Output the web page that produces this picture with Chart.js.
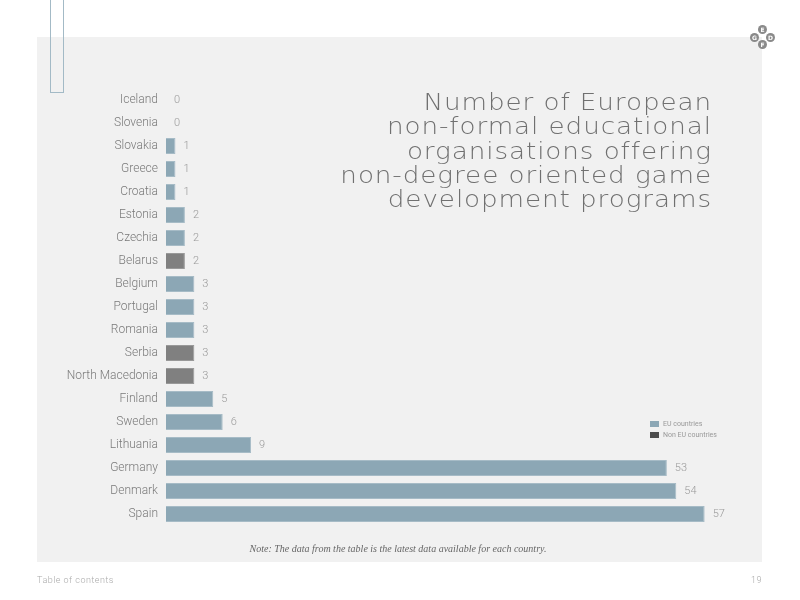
<!DOCTYPE html>
<html>
<head>
<meta charset="utf-8">
<script src="https://cdn.jsdelivr.net/npm/chart.js@4"></script>
<style>
  html, body { margin: 0; padding: 0; background: #fff; }
  #page { position: relative; width: 800px; height: 600px; overflow: hidden; }
  .panel { position: absolute; left: 37px; top: 37px; width: 725px; height: 525px; background: #f1f1f1; }
  .bracket { position: absolute; left: 50px; top: -2px; width: 12px; height: 93px; border: 1px solid #a3bac6; }
  canvas { position: absolute; left: 0; top: 0; }
  .title {
    position: absolute; right: 88px; top: 90px; text-align: right;
    font-family: "DejaVu Sans"; font-weight: 200; font-size: 23px; line-height: 24.3px;
    letter-spacing: 0.8px; color: #707070;
    transform: scaleX(1.14); transform-origin: right top;
  }
  .legend { position: absolute; left: 650px; top: 420px; font-family: Roboto; font-size: 7px; color: #999; }
  .legend div { height: 11px; line-height: 8px; }
  .legend span { display: inline-block; width: 9px; height: 6px; margin-right: 4px; vertical-align: middle; }
  .note {
    position: absolute; left: 0; width: 796px; top: 543px; text-align: center;
    font-family: "Liberation Serif"; font-style: italic; font-size: 10px; color: #666;
  }
  .foot { position: absolute; top: 575px; font-family: Roboto; font-weight: 300; font-size: 9px; color: #aaa; letter-spacing: 0.5px; }
  .dot { position: absolute; width: 9px; height: 9px; border-radius: 50%; background: #8a8a8a; color: #fff;
    font-family: "DejaVu Sans"; font-weight: bold; font-size: 6px; line-height: 9px; text-align: center; }
</style>
</head>
<body>
<div id="page">
  <div class="panel"></div>
  <div class="bracket"></div>
  <canvas id="myChart" width="800" height="600"></canvas>
  <div class="title">Number of European<br>non-formal educational<br>organisations offering<br>non-degree oriented game<br>development programs</div>
  <div class="legend">
    <div><span style="background:#8ca7b5"></span>EU countries</div>
    <div><span style="background:#4d4d4d"></span>Non EU countries</div>
  </div>
  <div class="note">Note: The data from the table is the latest data available for each country.</div>
  <div class="foot" style="left:37px">Table of contents</div>
  <div class="foot" style="right:38px">19</div>
  <div class="dot" style="left:758px;top:25px">E</div>
  <div class="dot" style="left:750px;top:33px">G</div>
  <div class="dot" style="left:766px;top:33px">D</div>
  <div class="dot" style="left:758px;top:40px">F</div>
</div>
<script>
// countries top to bottom
const countries = ['Iceland', 'Slovenia', 'Slovakia', 'Greece', 'Croatia', 'Estonia', 'Czechia', 'Belarus',
  'Belgium', 'Portugal', 'Romania', 'Serbia', 'North Macedonia', 'Finland', 'Sweden', 'Lithuania',
  'Germany', 'Denmark', 'Spain'];
const programs = [0, 0, 1, 1, 1, 2, 2, 2, 3, 3, 3, 3, 3, 5, 6, 9, 53, 54, 57];
const nonEU = ['Belarus', 'Serbia', 'North Macedonia'];

const euColor = '#8ca7b5';
const nonEuColor = '#808080';

// value text after each bar
const valueLabels = {
    id: 'valueLabels',
    afterDatasetsDraw(chart) {
        const ctx = chart.ctx;
        const meta = chart.getDatasetMeta(0);
        ctx.save();
        ctx.font = '300 11px Roboto';
        ctx.fillStyle = '#9a9a9a';
        ctx.textAlign = 'left';
        ctx.textBaseline = 'middle';
        meta.data.forEach((bar, i) => {
            ctx.fillText(programs[i], bar.x + 8, bar.y);
        });
        ctx.restore();
    }
};

const ctx = document.getElementById('myChart');

new Chart(ctx, {
    type: 'bar',
    data: {
        labels: countries,
        datasets: [{
            label: 'Programs',
            data: programs,
            backgroundColor: countries.map(c => nonEU.includes(c) ? nonEuColor : euColor),
            borderColor: countries.map(c => nonEU.includes(c) ? '#999999' : '#a6bbc6'),
            borderWidth: 1,
            borderSkipped: 'left',
            barPercentage: 0.7,
            categoryPercentage: 1
        }]
    },
    options: {
        indexAxis: 'y',
        responsive: false,
        animation: false,
        layout: { padding: { top: 88.5, bottom: 74.5, right: 67, left: 0 } },
        plugins: {
            legend: { display: false },
            tooltip: { enabled: false }
        },
        scales: {
            x: { display: false, min: 0, max: 60 },
            y: {
                afterFit: s => { s.width = 166; },
                grid: { display: false, drawTicks: false, tickLength: 0 },
                border: { display: false },
                ticks: {
                    padding: 8,
                    color: '#7a7a7a',
                    font: { family: 'Roboto', size: 12, weight: '300' }
                }
            }
        }
    },
    plugins: [valueLabels]
});
</script>
</body>
</html>
